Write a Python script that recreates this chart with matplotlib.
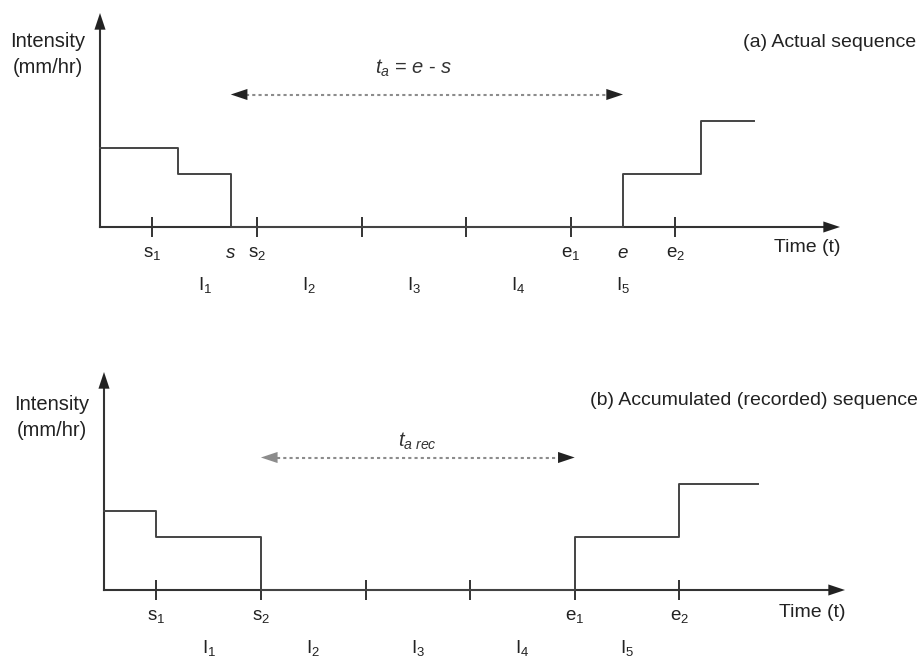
import matplotlib.pyplot as plt

plt.rcParams["font.family"] = "Liberation Sans"
plt.rcParams["mathtext.fontset"] = "custom"
plt.rcParams["mathtext.rm"] = "Liberation Sans"
plt.rcParams["mathtext.it"] = "Liberation Sans:italic"
plt.rcParams["mathtext.bf"] = "Liberation Sans:bold"

# Time is measured in sampling intervals, intensity in arbitrary units
tick_times = [0.5, 1.5, 2.5, 3.5, 4.5, 5.5]
interval_centers = [1.0, 2.0, 3.0, 4.0, 5.0]
interval_labels = [r"$\mathregular{I_%d}$" % i for i in range(1, 6)]

# (a) actual sequence
actual_times = [0.0, 0.75, 1.25, 5.0, 5.75, 6.25]
actual_intensity = [1.5, 1.0, 0.0, 1.0, 2.0, 2.0]
actual_tick_labels = [r"$\mathregular{s_1}$", r"$\mathregular{s_2}$", "", "",
                      r"$\mathregular{e_1}$", r"$\mathregular{e_2}$"]
actual_marks = [1.25, 5.0]
actual_mark_labels = ["$s$", "$e$"]
actual_span = (1.25, 5.0)

# (b) accumulated (recorded) sequence
recorded_times = [0.0, 0.5, 1.5, 4.5, 5.5, 6.25]
recorded_intensity = [1.5, 1.0, 0.0, 1.0, 2.0, 2.0]
recorded_tick_labels = [r"$\mathregular{s_1}$", r"$\mathregular{s_2}$", "", "",
                        r"$\mathregular{e_1}$", r"$\mathregular{e_2}$"]
recorded_span = (1.5, 4.5)

W, H = 921, 661
XU, YU = 104.6, 53.0  # pixels per time unit / intensity unit
AX_COL = "#333333"


def head(ax, tip, tail, color):
    ax.annotate("", xy=tip, xytext=tail,
                arrowprops=dict(arrowstyle="-|>,head_length=0.6,head_width=0.2",
                                color=color, lw=0, shrinkA=0, shrinkB=0,
                                mutation_scale=20))


def draw_panel(rect_px, times, intensity, tick_labels, marks, mark_labels,
               span, span_label, span_y, span_text_y, left_color, title, title_xy,
               time_y):
    x0, y_base, x1, y_top = rect_px
    ax = fig.add_axes([x0 / W, (H - y_base) / H, (x1 - x0) / W, (y_base - y_top) / H])
    xmax = (x1 - x0) / XU
    ymax = (y_base - y_top) / YU
    ax.set_xlim(0, xmax)
    ax.set_ylim(0, ymax)
    for sp in ax.spines.values():
        sp.set_visible(False)
    ax.yaxis.set_visible(False)
    ax.patch.set_alpha(0)

    # axes with arrow heads
    ax.plot([0, xmax - 0.1], [0, 0], color=AX_COL, lw=1.5, clip_on=False)
    ax.plot([0, 0], [0, ymax - 0.2], color=AX_COL, lw=1.5, clip_on=False)
    head(ax, (xmax, 0), (xmax - 0.3, 0), "#222222")
    head(ax, (0, ymax), (0, ymax - 0.4), "#222222")

    # rainfall sequence
    ax.step(times, intensity, where="post", color="#444444", lw=1.4, clip_on=False)

    # ticks
    ax.set_xticks(tick_times, tick_labels)
    ax.set_xticks(marks, mark_labels, minor=True)
    ax.tick_params(axis="x", which="major", direction="inout", length=14.4,
                   width=1.4, color=AX_COL, pad=6.0, labelsize=13.5,
                   labelcolor="#222222")
    ax.tick_params(axis="x", which="minor", length=0, pad=13.2, labelsize=13.5,
                   labelcolor="#222222")

    for xc, lab in zip(interval_centers, interval_labels):
        ax.text(xc, -1.09, lab, ha="center", va="center", fontsize=13.5,
                color="#222222")

    # duration arrow
    ax.plot([span[0] + 0.15, span[1] - 0.15], [span_y, span_y], color="#8c8c8c",
            lw=1.5, ls=(0, (1.5, 1.5)))
    head(ax, (span[0], span_y), (span[0] + 0.3, span_y), left_color)
    head(ax, (span[1], span_y), (span[1] - 0.3, span_y), "#222222")
    ax.text(3.0, span_text_y, span_label, ha="center", va="center", fontsize=14.5,
            color="#333333")

    ax.text(-0.5, 3.25, "Intensity\n(mm/hr)", ha="center", va="center",
            fontsize=14.5, linespacing=1.45, color="#222222")
    ax.text(title_xy[0], title_xy[1], title, ha="right", va="center", fontsize=14,
            color="#222222")
    ax.text(xmax, time_y, "Time (t)", ha="right", va="center", fontsize=14,
            color="#222222")
    return ax


fig = plt.figure(figsize=(W / 100, H / 100), dpi=100)

draw_panel((100, 227, 840, 13), actual_times, actual_intensity, actual_tick_labels,
           actual_marks, actual_mark_labels, actual_span, "$t_a$ = $e$ - $s$",
           2.5, 3.0, "#222222", "(a) Actual sequence", (7.8, 3.49), -0.38)

draw_panel((104, 590, 845, 372), recorded_times, recorded_intensity,
           recorded_tick_labels, [], [], recorded_span, r"$t_{a\ rec}$",
           2.5, 2.8, "#8c8c8c", "(b) Accumulated (recorded) sequence",
           (7.78, 3.58), -0.43)

fig.savefig("out.png", dpi=100)
